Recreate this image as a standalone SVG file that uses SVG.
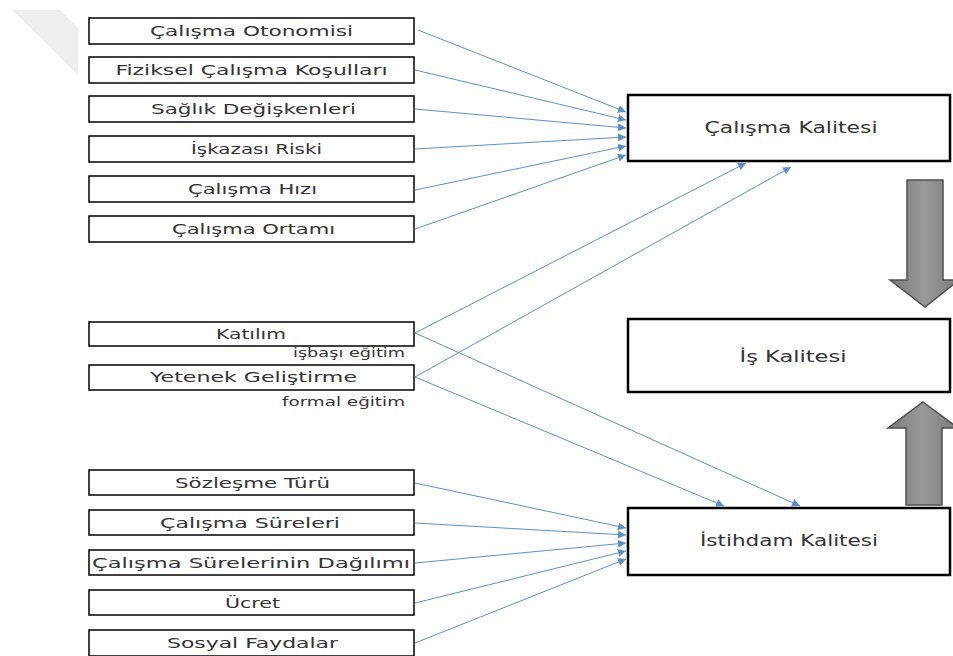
<svg xmlns="http://www.w3.org/2000/svg" width="953" height="656" viewBox="0 0 953 656">
<style>
.lb{fill:#fff;stroke:#000;stroke-width:1.5}
.rb{fill:#fff;stroke:#000;stroke-width:2.5}
.t{font-family:"DejaVu Sans",Verdana,sans-serif;font-size:14px;fill:#333;text-anchor:middle}
.s{font-family:"DejaVu Sans",Verdana,sans-serif;font-size:12px;fill:#333;text-anchor:end}
.rt{font-family:"DejaVu Sans",Verdana,sans-serif;font-size:15px;fill:#333;text-anchor:middle}
.c{stroke:#5b8fcc;stroke-width:1;fill:none;marker-end:url(#ah)}
.big{fill:url(#g);stroke:#505050;stroke-width:1.5}
</style>
<defs>
<marker id="ah" markerUnits="userSpaceOnUse" markerWidth="9" markerHeight="8" refX="8" refY="4" orient="auto">
<path d="M0,0 L8,4 L0,8 z" fill="#5b8fcc"/>
</marker>
<linearGradient id="g" x1="0" y1="0" x2="1" y2="0">
<stop offset="0" stop-color="#7a7a7a"/>
<stop offset="0.5" stop-color="#9a9a9a"/>
<stop offset="1" stop-color="#7a7a7a"/>
</linearGradient>
</defs>
<rect width="953" height="656" fill="#fff"/>
<polygon points="12,10 60,10 78,28 78,75" fill="#eeeeee"/>

<g id="connectors">
<line class="c" x1="418" y1="30" x2="626" y2="112"/>
<line class="c" x1="415" y1="70" x2="626" y2="120"/>
<line class="c" x1="415" y1="109" x2="626" y2="128"/>
<line class="c" x1="415" y1="149" x2="626" y2="137"/>
<line class="c" x1="415" y1="190" x2="626" y2="146"/>
<line class="c" x1="415" y1="229" x2="626" y2="155"/>
<line class="c" x1="415" y1="333" x2="746" y2="163"/>
<line class="c" x1="415" y1="377" x2="791" y2="167"/>
<line class="c" x1="415" y1="333" x2="800" y2="506"/>
<line class="c" x1="415" y1="377" x2="724" y2="506"/>
<line class="c" x1="415" y1="483" x2="626" y2="528"/>
<line class="c" x1="415" y1="523" x2="626" y2="535"/>
<line class="c" x1="415" y1="563" x2="626" y2="543"/>
<line class="c" x1="415" y1="603" x2="626" y2="551"/>
<line class="c" x1="415" y1="643" x2="626" y2="559"/>
</g>

<g id="n1"><rect class="lb" x="89" y="18" width="325" height="26"/><text class="t" x="251.5" y="36" textLength="203" lengthAdjust="spacingAndGlyphs">Çalışma Otonomisi</text></g>
<g id="n2"><rect class="lb" x="89" y="57" width="325" height="26"/><text class="t" x="251.5" y="75" textLength="272" lengthAdjust="spacingAndGlyphs">Fiziksel Çalışma Koşulları</text></g>
<g id="n3"><rect class="lb" x="89" y="96" width="325" height="26"/><text class="t" x="253.5" y="114" textLength="205" lengthAdjust="spacingAndGlyphs">Sağlık Değişkenleri</text></g>
<g id="n4"><rect class="lb" x="89" y="136" width="325" height="26"/><text class="t" x="256.5" y="154" textLength="131" lengthAdjust="spacingAndGlyphs">İşkazası Riski</text></g>
<g id="n5"><rect class="lb" x="89" y="176" width="325" height="26"/><text class="t" x="252.5" y="194" textLength="129" lengthAdjust="spacingAndGlyphs">Çalışma Hızı</text></g>
<g id="n6"><rect class="lb" x="89" y="216" width="325" height="26"/><text class="t" x="253.5" y="234" textLength="163" lengthAdjust="spacingAndGlyphs">Çalışma Ortamı</text></g>
<g id="n7"><rect class="lb" x="89" y="322" width="325" height="24"/><text class="t" x="251" y="339" textLength="70" lengthAdjust="spacingAndGlyphs">Katılım</text></g>
<text class="s" x="405" y="357" textLength="112" lengthAdjust="spacingAndGlyphs">işbaşı eğitim</text>
<g id="n8"><rect class="lb" x="89" y="365" width="325" height="25"/><text class="t" x="253.5" y="382" textLength="207" lengthAdjust="spacingAndGlyphs">Yetenek Geliştirme</text></g>
<text class="s" x="405" y="406" textLength="123" lengthAdjust="spacingAndGlyphs">formal eğitim</text>
<g id="n9"><rect class="lb" x="89" y="470" width="325" height="25"/><text class="t" x="252.5" y="488" textLength="155" lengthAdjust="spacingAndGlyphs">Sözleşme Türü</text></g>
<g id="n10"><rect class="lb" x="89" y="510" width="325" height="25"/><text class="t" x="250" y="528" textLength="180" lengthAdjust="spacingAndGlyphs">Çalışma Süreleri</text></g>
<g id="n11"><rect class="lb" x="89" y="550" width="325" height="25"/><text class="t" x="251" y="568" textLength="318" lengthAdjust="spacingAndGlyphs">Çalışma Sürelerinin Dağılımı</text></g>
<g id="n12"><rect class="lb" x="89" y="590" width="325" height="25"/><text class="t" x="252.5" y="608" textLength="55" lengthAdjust="spacingAndGlyphs">Ücret</text></g>
<g id="n13"><rect class="lb" x="89" y="630" width="325" height="26"/><text class="t" x="252.5" y="648" textLength="171" lengthAdjust="spacingAndGlyphs">Sosyal Faydalar</text></g>

<g id="r1"><rect class="rb" x="628" y="95" width="322" height="66"/><text class="rt" x="791" y="133" textLength="173" lengthAdjust="spacingAndGlyphs">Çalışma Kalitesi</text></g>
<g id="r2"><rect class="rb" x="628" y="319" width="322" height="73"/><text class="rt" x="793" y="362" textLength="107" lengthAdjust="spacingAndGlyphs">İş Kalitesi</text></g>
<g id="r3"><rect class="rb" x="628" y="508" width="322" height="67"/><text class="rt" x="789" y="546" textLength="178" lengthAdjust="spacingAndGlyphs">İstihdam Kalitesi</text></g>

<g id="arrow-down"><polygon class="big" points="907,180 943,180 943,280 959,280 925,307 890,280 907,280"/></g>
<g id="arrow-up"><polygon class="big" points="923,402 958,428 942,428 942,505 906,505 906,428 888,428"/></g>
</svg>
